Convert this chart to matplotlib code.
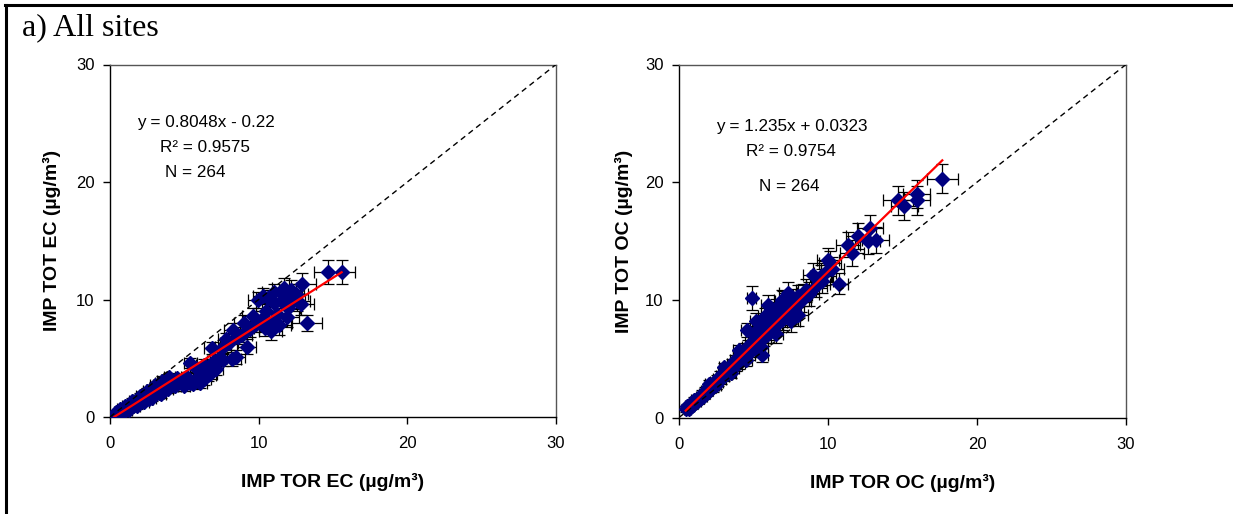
import matplotlib
matplotlib.use("Agg")
import matplotlib.pyplot as plt
from matplotlib.lines import Line2D

# ---------------- data ----------------
ec_x = [0.20, 0.30, 0.35, 0.45, 0.50, 0.60, 0.65, 0.75, 0.80, 0.90, 0.95, 1.05, 1.10, 1.20, 1.25,
        1.35, 1.40, 1.50, 1.55, 1.65, 1.70, 1.80, 1.85, 1.95, 2.00, 2.10, 2.15, 2.25, 2.30, 2.40,
        2.50, 2.55, 2.65, 2.75, 2.80, 2.90, 3.00, 3.05, 3.15, 3.25, 3.30, 3.40, 3.50, 3.55, 3.65,
        3.75, 3.85, 3.95, 4.10, 4.20, 3.30, 2.60, 4.40, 4.60, 5.00, 5.40, 5.60, 6.05, 5.90, 6.30,
        6.60, 6.70, 6.90, 7.10, 7.00, 7.60, 7.30, 8.50, 8.20, 6.84, 7.60, 8.00, 8.30, 8.60, 9.20,
        8.90, 9.40, 9.00, 9.80, 9.97, 10.20, 10.50, 10.40, 10.80, 10.60, 11.00, 11.20, 11.50, 11.00,
        11.80, 11.40, 12.00, 12.30, 11.70, 12.20, 12.84, 12.93, 13.23, 14.64, 15.58, 10.70, 11.90,
        10.30, 12.50, 5.40, 5.80, 6.30,
        1.00, 1.50, 2.00, 2.50, 3.00, 3.50, 4.00, 1.30, 1.80, 2.30, 2.80, 3.40, 3.90, 4.50, 4.80,
        5.20, 5.00, 0.70, 0.40, 6.10, 7.80, 9.60, 11.10, 12.60]
ec_y = [0.10, 0.05, 0.22, 0.28, 0.15, 0.38, 0.30, 0.50, 0.40, 0.62, 0.52, 0.78, 0.62, 0.90, 0.72,
        1.02, 0.85, 1.15, 0.95, 1.30, 1.10, 1.42, 1.20, 1.55, 1.35, 1.70, 1.45, 1.82, 1.55, 1.98,
        1.70, 2.12, 1.85, 2.28, 1.95, 2.42, 2.10, 2.58, 2.25, 2.72, 2.40, 2.88, 2.55, 3.00, 2.70,
        3.12, 2.80, 3.20, 3.00, 2.70, 2.05, 1.55, 2.60, 2.90, 3.10, 2.90, 2.85, 2.90, 3.40, 3.20,
        3.60, 3.70, 4.40, 4.10, 4.80, 4.85, 5.00, 5.10, 4.90, 5.85, 6.00, 6.30, 7.40, 6.80, 6.00,
        7.00, 7.50, 8.00, 7.90, 9.97, 8.30, 9.00, 7.60, 7.30, 10.10, 9.70, 8.80, 9.90, 10.60,
        10.30, 7.80, 9.30, 10.00, 11.00, 10.80, 9.60, 11.33, 7.98, 12.33, 12.33, 8.00, 8.50,
        10.30, 10.50, 4.60, 4.20, 4.40,
        0.90, 1.35, 1.80, 2.20, 2.70, 3.10, 3.40, 0.60, 0.95, 1.30, 1.65, 2.00, 2.40, 3.30, 3.00,
        3.40, 2.60, 0.65, 0.40, 4.00, 6.60, 8.60, 8.20, 9.90]
ec_xerr = [0.15, 0.15, 0.15, 0.15, 0.15, 0.2, 0.2, 0.2, 0.2, 0.2, 0.2, 0.2, 0.2, 0.2, 0.2,
           0.2, 0.2, 0.25, 0.25, 0.25, 0.25, 0.25, 0.25, 0.25, 0.25, 0.3, 0.3, 0.3, 0.3, 0.3,
           0.3, 0.3, 0.3, 0.3, 0.3, 0.3, 0.3, 0.3, 0.3, 0.35, 0.35, 0.35, 0.35, 0.35, 0.35,
           0.35, 0.35, 0.35, 0.35, 0.35, 0.35, 0.3, 0.4, 0.4, 0.4, 0.45, 0.45, 0.45, 0.45, 0.5,
           0.5, 0.5, 0.5, 0.5, 0.5, 0.55, 0.55, 0.6, 0.6, 0.5, 0.55, 0.6, 0.6, 0.6, 0.65,
           0.65, 0.65, 0.65, 0.7, 0.7, 0.7, 0.7, 0.7, 0.75, 0.75, 0.75, 0.75, 0.8, 0.75,
           0.8, 0.8, 0.8, 0.85, 0.8, 0.85, 0.9, 0.9, 1.0, 0.9, 0.9, 0.75, 0.8,
           0.7, 0.85, 0.45, 0.45, 0.5,
           0.2, 0.25, 0.25, 0.3, 0.3, 0.35, 0.35, 0.2, 0.25, 0.3, 0.3, 0.35, 0.35, 0.4, 0.4,
           0.4, 0.4, 0.2, 0.15, 0.45, 0.55, 0.7, 0.75, 0.85]
ec_yerr = [0.15, 0.15, 0.15, 0.15, 0.15, 0.2, 0.2, 0.2, 0.2, 0.2, 0.2, 0.2, 0.2, 0.2, 0.2,
           0.2, 0.2, 0.25, 0.25, 0.25, 0.25, 0.25, 0.25, 0.25, 0.25, 0.3, 0.3, 0.3, 0.3, 0.3,
           0.3, 0.3, 0.3, 0.3, 0.3, 0.3, 0.3, 0.3, 0.3, 0.35, 0.35, 0.35, 0.35, 0.35, 0.35,
           0.35, 0.35, 0.35, 0.35, 0.35, 0.35, 0.3, 0.4, 0.4, 0.4, 0.45, 0.45, 0.45, 0.45, 0.5,
           0.5, 0.5, 0.5, 0.5, 0.5, 0.55, 0.55, 0.6, 0.6, 0.5, 0.55, 0.6, 0.6, 0.6, 0.65,
           0.65, 0.65, 0.65, 0.7, 0.7, 0.7, 0.7, 0.7, 0.75, 0.75, 0.75, 0.75, 0.8, 0.75,
           0.8, 0.8, 0.8, 0.85, 0.8, 0.85, 0.9, 0.9, 0.7, 1.0, 1.0, 0.75, 0.8,
           0.7, 0.85, 0.45, 0.45, 0.5,
           0.2, 0.25, 0.25, 0.3, 0.3, 0.35, 0.35, 0.2, 0.25, 0.3, 0.3, 0.35, 0.35, 0.4, 0.4,
           0.4, 0.4, 0.2, 0.15, 0.45, 0.55, 0.7, 0.75, 0.85]

oc_x = [0.50, 0.55, 0.65, 0.75, 0.85, 0.95, 1.05, 1.15, 1.25, 1.35, 1.45, 1.55, 1.65, 1.75, 1.85,
        1.95, 2.05, 2.15, 2.25, 2.35, 2.45, 2.55, 2.65, 2.75, 2.85, 2.95, 3.05, 3.15, 3.25, 3.35,
        3.45, 3.55, 3.65, 3.75, 3.85, 3.95, 4.05, 4.15, 4.25, 4.35, 4.45, 4.54, 4.60, 4.70, 4.80,
        4.90, 4.88, 5.00, 5.10, 5.20, 5.30, 5.40, 5.55, 5.50, 5.60, 5.70, 5.80, 5.90, 6.00, 6.05,
        6.10, 6.20, 6.30, 6.40, 6.50, 6.60, 6.70, 6.80, 6.90, 7.00, 7.10, 7.20, 7.30, 7.40, 7.50,
        7.60, 7.80, 8.00, 8.20, 8.50, 8.70, 9.00, 9.20, 9.50, 9.80, 10.00, 10.13, 10.30, 10.76,
        11.36, 11.59, 12.03, 12.66, 12.82, 13.20, 14.68, 15.12, 15.95, 15.95, 17.67,
        1.00, 2.00, 3.00, 4.00, 5.00, 6.00, 7.00, 1.50, 2.50, 3.50, 4.50, 5.50, 6.50, 7.50, 8.00,
        6.20, 5.80, 5.20, 6.90, 7.30, 6.50, 0.70, 8.30, 9.60]
oc_y = [0.70, 0.95, 0.75, 1.05, 0.95, 1.30, 1.20, 1.50, 1.40, 1.78, 1.62, 2.00, 1.85, 2.28, 2.10,
        2.55, 2.35, 2.78, 2.55, 3.02, 2.80, 3.28, 3.05, 3.55, 3.25, 3.80, 3.50, 4.05, 3.70, 4.30,
        3.90, 4.55, 4.20, 4.85, 4.45, 5.15, 4.65, 5.45, 4.90, 5.75, 5.20, 7.45, 6.00, 5.45, 6.30,
        5.70, 10.14, 6.60, 6.00, 6.90, 6.30, 7.15, 5.30, 6.60, 7.40, 6.80, 7.70, 7.00, 9.57, 8.00,
        7.30, 8.30, 7.60, 8.60, 7.90, 8.70, 8.10, 9.00, 8.30, 9.30, 8.50, 9.50, 8.80, 9.80, 9.00,
        10.00, 9.40, 10.30, 9.90, 10.80, 10.50, 12.10, 11.20, 12.00, 12.30, 13.40, 13.10, 12.60, 11.36,
        14.70, 13.97, 15.45, 14.96, 16.10, 15.10, 18.45, 18.00, 19.00, 18.45, 20.30,
        1.45, 2.85, 4.25, 5.70, 7.20, 8.60, 9.90, 1.65, 2.75, 3.80, 4.90, 6.00, 7.10, 8.20, 8.70,
        9.10, 8.60, 8.20, 10.00, 10.60, 9.30, 1.00, 10.40, 11.60]
oc_xerr = [0.15, 0.15, 0.15, 0.15, 0.15, 0.2, 0.2, 0.2, 0.2, 0.2, 0.2, 0.2, 0.2, 0.25, 0.25,
           0.25, 0.25, 0.25, 0.25, 0.25, 0.25, 0.3, 0.3, 0.3, 0.3, 0.3, 0.3, 0.3, 0.3, 0.3,
           0.3, 0.35, 0.35, 0.35, 0.35, 0.35, 0.35, 0.35, 0.35, 0.4, 0.4, 0.35, 0.4, 0.4, 0.4,
           0.4, 0.3, 0.4, 0.4, 0.45, 0.45, 0.45, 0.45, 0.45, 0.45, 0.45, 0.5, 0.5, 0.5, 0.5,
           0.5, 0.5, 0.5, 0.5, 0.5, 0.55, 0.55, 0.55, 0.55, 0.55, 0.55, 0.6, 0.6, 0.6, 0.6,
           0.6, 0.6, 0.65, 0.65, 0.65, 0.7, 0.7, 0.7, 0.7, 0.75, 0.75, 0.75, 0.75, 0.6,
           0.8, 0.8, 0.8, 0.85, 0.85, 0.9, 1.0, 0.9, 0.9, 0.9, 1.05,
           0.2, 0.25, 0.3, 0.35, 0.4, 0.5, 0.55, 0.2, 0.3, 0.35, 0.4, 0.45, 0.5, 0.6, 0.65,
           0.5, 0.5, 0.45, 0.55, 0.6, 0.5, 0.15, 0.65, 0.75]
oc_yerr = [0.2, 0.2, 0.2, 0.2, 0.2, 0.25, 0.25, 0.25, 0.25, 0.25, 0.25, 0.3, 0.3, 0.3, 0.3,
           0.3, 0.3, 0.35, 0.35, 0.35, 0.35, 0.35, 0.35, 0.4, 0.4, 0.4, 0.4, 0.4, 0.4, 0.45,
           0.45, 0.45, 0.45, 0.5, 0.5, 0.5, 0.5, 0.5, 0.5, 0.55, 0.55, 0.6, 0.55, 0.55, 0.6,
           0.6, 1.0, 0.6, 0.6, 0.65, 0.65, 0.65, 0.6, 0.65, 0.7, 0.7, 0.7, 0.7, 0.8, 0.75,
           0.75, 0.75, 0.75, 0.8, 0.8, 0.8, 0.8, 0.85, 0.85, 0.85, 0.85, 0.9, 0.9, 0.9, 0.9,
           0.9, 0.9, 0.95, 0.95, 1.0, 1.0, 1.0, 1.0, 1.0, 1.0, 1.0, 1.05, 1.05, 0.9,
           1.1, 1.1, 1.1, 1.1, 1.1, 1.1, 1.2, 1.2, 1.2, 1.2, 1.23,
           0.25, 0.3, 0.4, 0.5, 0.6, 0.75, 0.85, 0.25, 0.35, 0.45, 0.55, 0.65, 0.8, 0.9, 0.95,
           0.75, 0.7, 0.65, 0.85, 0.9, 0.8, 0.2, 0.95, 1.0]

fit_slope = [0.8048, 1.235]
fit_intercept = [-0.22, 0.0323]
fit_xrange = [(0.30, 15.58), (0.45, 17.67)]
fit_eq = ["y = 0.8048x - 0.22", "y = 1.235x + 0.0323"]
fit_r2 = ["R² = 0.9575", "R² = 0.9754"]
n_text = ["N = 264", "N = 264"]
x_labels = ["IMP TOR EC (µg/m³)", "IMP TOR OC (µg/m³)"]
y_labels = ["IMP TOT EC (µg/m³)", "IMP TOT OC (µg/m³)"]
ticks = [0, 10, 20, 30]
panel_title = "a) All sites"

# ---------------- figure ----------------
W, H = 1233, 514
fig = plt.figure(figsize=(W / 100, H / 100), dpi=100)
plt.rcParams['font.family'] = ['Liberation Sans', 'DejaVu Sans']

def px_axes(x0, x1, ytop, ybot):
    return [x0 / W, 1 - ybot / H, (x1 - x0) / W, (ybot - ytop) / H]

axes = [fig.add_axes(px_axes(110, 556, 64.5, 417)),
        fig.add_axes(px_axes(679, 1126, 64.5, 417.5))]

datasets = [(ec_x, ec_y, ec_xerr, ec_yerr), (oc_x, oc_y, oc_xerr, oc_yerr)]
text_pos = [[(1.8, 25.1), (3.36, 22.9), (3.7, 20.8)],
            [(2.48, 24.75), (4.5, 22.6), (5.37, 19.6)]]
ylab_x = [-0.13, -0.123]

for i, ax in enumerate(axes):
    x, y, xe, ye = datasets[i]
    ax.set_xlim(0, 30)
    ax.set_ylim(0, 30)
    # 1:1 line
    ax.plot([0, 30], [0, 30], color='black', lw=1.0, linestyle=(0, (4, 3)), zorder=4)
    # error bars
    ax.errorbar(x, y, xerr=xe, yerr=ye, fmt='none', ecolor='black', elinewidth=0.9,
                capsize=4, capthick=0.9, zorder=2)
    # markers
    ax.plot(x, y, linestyle='none', marker='D', markersize=6.8, color='#000080',
            markeredgecolor='#000080', zorder=3)
    # fit line
    xa, xb = fit_xrange[i]
    ax.plot([xa, xb], [fit_slope[i] * xa + fit_intercept[i], fit_slope[i] * xb + fit_intercept[i]],
            color='#ff0000', lw=1.6, zorder=5)
    # annotations
    for txt, (tx, ty) in zip([fit_eq[i], fit_r2[i], n_text[i]], text_pos[i]):
        ax.text(tx, ty, txt, fontsize=12.3, ha='left', va='center', color='black', zorder=6)

    ax.set_xticks(ticks)
    ax.set_yticks(ticks)
    ax.tick_params(direction='out', length=5, width=1, labelsize=12, colors='black', pad=6)
    ax.tick_params(axis='x', pad=9)
    for s in ['left', 'bottom']:
        ax.spines[s].set_color('black')
        ax.spines[s].set_linewidth(1.0)
    for s in ['top', 'right']:
        ax.spines[s].set_color('#555555')
        ax.spines[s].set_linewidth(1.0)

    ax.set_xlabel(x_labels[i], fontsize=14, fontweight='bold')
    ax.set_ylabel(y_labels[i], fontsize=14, fontweight='bold')
    ax.xaxis.set_label_coords(0.5, -0.185)
    ax.xaxis.label.set_va('center')
    ax.yaxis.set_label_coords(ylab_x[i], 0.5)
    ax.yaxis.label.set_va('center')

# Panel title
fig.text(22 / W, 1 - 35 / H, panel_title, fontsize=23, family=['Liberation Serif', 'DejaVu Serif'],
         ha='left', va='baseline')

# Outer frame (left and top edges)
fig.add_artist(Line2D([5.5 / W, 5.5 / W], [0, 1 - 4.5 / H], transform=fig.transFigure,
                      color='black', lw=2.2))
fig.add_artist(Line2D([4.5 / W, 1], [1 - 4.5 / H, 1 - 4.5 / H], transform=fig.transFigure,
                      color='black', lw=2.2))

fig.savefig('out.png', dpi=100)
